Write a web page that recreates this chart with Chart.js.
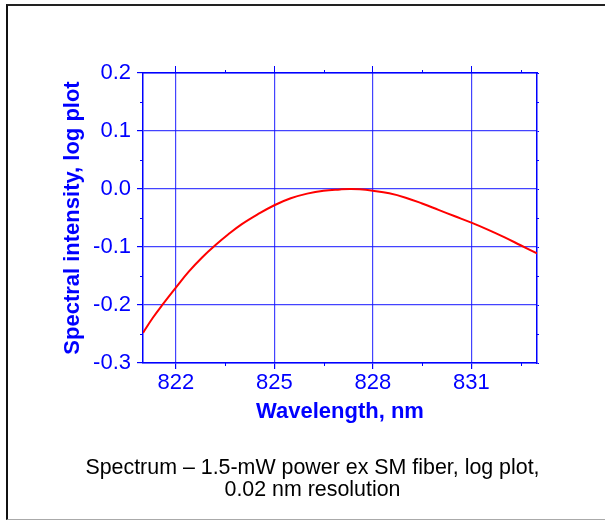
<!DOCTYPE html>
<html lang="en">
<head>
<meta charset="UTF-8">
<title>Spectrum – log plot</title>
<script src="https://cdn.jsdelivr.net/npm/chart.js@4.4.1/dist/chart.umd.min.js"></script>
<style>
    html, body {
        margin: 0;
        padding: 0;
        background: #fff;
    }
    #wrap {
        position: relative;
        width: 605px;
        height: 520px;
        overflow: hidden;
    }
    #frame {
        position: absolute;
        left: 6px;
        top: 4px;
        width: 610px;
        height: 513px;
        border-top: 2px solid #222;
        border-left: 2px solid #111;
        border-bottom: 1px solid #aaa;
    }
    #chart-box {
        position: absolute;
        left: 0;
        top: 0;
        width: 605px;
        height: 520px;
    }
    #caption {
        position: absolute;
        left: 14px;
        width: 597px;
        top: 456px;
        text-align: center;
        font-family: "Liberation Sans", Arial, sans-serif;
        font-size: 21.4px;
        line-height: 22px;
        color: #000;
    }
</style>
</head>
<body>
<div id="wrap">
    <div id="frame"></div>
    <div id="chart-box"><canvas id="spectrum"></canvas></div>
    <div id="caption">Spectrum – 1.5-mW power ex SM fiber, log plot,<br>0.02 nm resolution</div>
</div>

<script>
    // wavelength (nm) and log spectral intensity
    const wavelength = [821.0, 821.3, 821.6, 822.0, 822.4, 822.8, 823.2, 823.6, 824.0, 824.5, 825.0, 825.5, 826.0, 826.5, 827.0, 827.3, 827.6, 828.0, 828.5, 829.0, 829.5, 830.0, 830.5, 831.0, 831.5, 832.0, 832.5, 833.0];
    const intensity  = [-0.248, -0.222, -0.199, -0.170, -0.142, -0.118, -0.097, -0.078, -0.061, -0.0435, -0.028, -0.016, -0.008, -0.003, -0.0008, 0.000, -0.0005, -0.003, -0.0075, -0.015, -0.025, -0.036, -0.047, -0.058, -0.070, -0.083, -0.097, -0.111];

    const xMajorTicks = [822, 825, 828, 831];
    const xMinorTicks = [823.5, 826.5, 829.5, 832.5];
    const yMajorTicks = [-0.3, -0.2, -0.1, 0.0, 0.1, 0.2];
    const yMinorTicks = [-0.25, -0.15, -0.05, 0.05, 0.15];

    const blue = '#0000ff';
    const gridBlue = 'rgba(20, 20, 255, 0.8)';
    const font = '"Liberation Sans", Arial, sans-serif';

    // short minor tick marks on all four sides
    const minorTicks = {
        id: 'minorTicks',
        afterDraw(chart) {
            const ctx = chart.ctx;
            const area = chart.chartArea;
            const xs = chart.scales.x;
            const ys = chart.scales.y;
            ctx.save();
            ctx.strokeStyle = blue;
            ctx.lineWidth = 1;
            ctx.beginPath();
            xMinorTicks.forEach(v => {
                const px = Math.round(xs.getPixelForValue(v)) + 0.5;
                ctx.moveTo(px, area.bottom);
                ctx.lineTo(px, area.bottom + 3);
                ctx.moveTo(px, area.top);
                ctx.lineTo(px, area.top - 3);
            });
            yMinorTicks.forEach(v => {
                const py = Math.round(ys.getPixelForValue(v)) + 0.5;
                ctx.moveTo(area.left, py);
                ctx.lineTo(area.left - 3, py);
                ctx.moveTo(area.right, py);
                ctx.lineTo(area.right + 2, py);
            });
            ctx.stroke();
            ctx.restore();
        }
    };

    const points = wavelength.map((w, i) => ({ x: w, y: intensity[i] }));

    new Chart(document.getElementById('spectrum'), {
        type: 'line',
        data: {
            datasets: [{
                data: points,
                borderColor: '#ff0000',
                borderWidth: 2,
                pointRadius: 0,
                tension: 0.4,
                fill: false
            }]
        },
        options: {
            responsive: true,
            maintainAspectRatio: false,
            animation: false,
            layout: {
                padding: { left: 56, right: 65, top: 66, bottom: 91 }
            },
            plugins: {
                legend: { display: false },
                tooltip: { enabled: false }
            },
            scales: {
                x: {
                    type: 'linear',
                    position: 'bottom',
                    min: 821,
                    max: 833,
                    afterBuildTicks: s => { s.ticks = xMajorTicks.map(v => ({ value: v })); },
                    afterFit: s => { s.height = 66; },
                    grid: { color: gridBlue, lineWidth: 1.2, tickLength: 6, tickColor: blue },
                    border: { color: blue, width: 1.5 },
                    ticks: {
                        color: blue,
                        padding: 1,
                        font: { family: font, size: 22 },
                        callback: v => String(v)
                    },
                    title: {
                        display: true,
                        text: 'Wavelength, nm',
                        color: blue,
                        font: { family: font, size: 22, weight: 'bold' }
                    }
                },
                x2: {
                    type: 'linear',
                    position: 'top',
                    min: 821,
                    max: 833,
                    afterBuildTicks: s => { s.ticks = xMajorTicks.map(v => ({ value: v })); },
                    afterFit: s => { s.height = 7; },
                    grid: { drawOnChartArea: false, tickLength: 7, color: blue },
                    border: { color: blue, width: 1.5 },
                    ticks: { display: false }
                },
                y: {
                    type: 'linear',
                    position: 'left',
                    min: -0.3,
                    max: 0.2,
                    afterBuildTicks: s => { s.ticks = yMajorTicks.map(v => ({ value: v })); },
                    afterFit: s => { s.width = 87; },
                    grid: { color: gridBlue, lineWidth: 1.2, tickLength: 6, tickColor: blue },
                    border: { color: blue, width: 1.5 },
                    ticks: {
                        color: blue,
                        padding: 6,
                        font: { family: font, size: 22 },
                        callback: v => v.toFixed(1)
                    },
                    title: {
                        display: true,
                        text: 'Spectral intensity, log plot',
                        color: blue,
                        font: { family: font, size: 22, weight: 'bold' }
                    }
                },
                y2: {
                    type: 'linear',
                    position: 'right',
                    min: -0.3,
                    max: 0.2,
                    afterBuildTicks: s => { s.ticks = yMajorTicks.map(v => ({ value: v })); },
                    afterFit: s => { s.width = 3; },
                    grid: { drawOnChartArea: false, tickLength: 2, color: blue },
                    border: { color: blue, width: 1.5 },
                    ticks: { display: false }
                }
            }
        },
        plugins: [minorTicks]
    });
</script>
</body>
</html>
